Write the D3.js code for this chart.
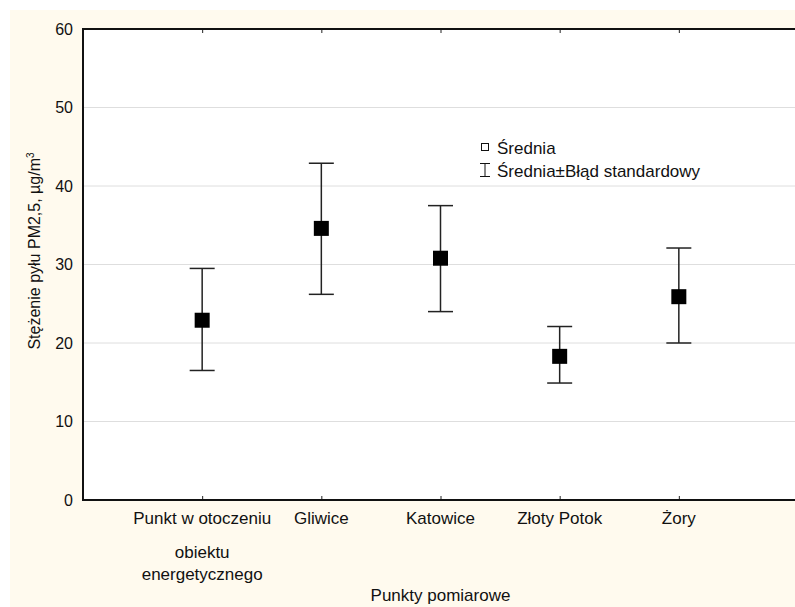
<!DOCTYPE html>
<html>
<head>
<meta charset="utf-8">
<script src="https://cdn.jsdelivr.net/npm/d3@7"></script>
<style>
  body { margin: 0; background: #fff; }
  text { font-family: "Liberation Sans", Arial, sans-serif; fill: #111; }
</style>
</head>
<body>
<div id="chart"></div>
<script>
// values
var categories = ["Punkt w otoczeniu|obiektu|energetycznego", "Gliwice", "Katowice", "Złoty Potok", "Żory"],
    means = [22.9, 34.6, 30.8, 18.3, 25.9],
    upper = [29.5, 42.9, 37.5, 22.1, 32.1],
    lower = [16.5, 26.2, 24.0, 14.9, 20.0],
    yTicks = [0, 10, 20, 30, 40, 50, 60];

var width = 795,
    height = 607,
    margin = { top: 29, right: -3, bottom: 107, left: 83 },
    plotW = width - margin.left - margin.right,
    plotH = height - margin.top - margin.bottom;

var svg = d3.select("#chart").append("svg")
    .attr("width", width)
    .attr("height", height);

// cream page background
svg.append("rect")
    .attr("x", 10).attr("y", 10)
    .attr("width", width - 10).attr("height", height - 10)
    .attr("fill", "#fffaee");

var g = svg.append("g")
    .attr("transform", "translate(" + margin.left + "," + margin.top + ")");

g.append("rect")
    .attr("width", plotW).attr("height", plotH)
    .attr("fill", "#fff");

var x = d3.scaleLinear().domain([0, categories.length + 1]).range([0, plotW]);
var y = d3.scaleLinear().domain([0, 60]).range([plotH, 0]);

// grid
g.selectAll("line.grid")
    .data(yTicks.filter(function(d) { return d > 0 && d < 60; }))
    .enter().append("line")
    .attr("class", "grid")
    .attr("x1", 0).attr("x2", plotW)
    .attr("y1", function(d) { return y(d); })
    .attr("y2", function(d) { return y(d); })
    .attr("stroke", "#dedede")
    .attr("stroke-width", 1);

// y axis labels
var yAxis = d3.axisLeft(y).tickValues(yTicks).tickSize(0).tickPadding(10);
g.append("g").call(yAxis)
    .call(function(s) { s.select(".domain").remove(); })
    .selectAll("text")
    .style("font-size", "16px")
    .attr("fill", "#111");

// x ticks (inside, bottom and top)
var xTickVals = d3.range(1, categories.length + 1);
g.append("g")
    .attr("transform", "translate(0," + plotH + ")")
    .call(d3.axisTop(x).tickValues(xTickVals).tickSize(4).tickFormat(""))
    .call(function(s) { s.select(".domain").remove(); s.selectAll("line").attr("stroke", "#222"); });
g.append("g")
    .call(d3.axisBottom(x).tickValues(xTickVals).tickSize(4).tickFormat(""))
    .call(function(s) { s.select(".domain").remove(); s.selectAll("line").attr("stroke", "#222"); });

// frame
g.append("path")
    .attr("d", "M" + plotW + ",0H0V" + plotH + "H" + plotW)
    .attr("fill", "none")
    .attr("stroke", "#111")
    .attr("stroke-width", 2);

// x category labels
var lab = g.selectAll("text.cat")
    .data(categories)
    .enter().append("text")
    .attr("class", "cat")
    .attr("text-anchor", "middle")
    .style("font-size", "17px")
    .attr("transform", function(d, i) { return "translate(" + x(i + 1) + "," + (plotH + 24) + ")"; });
lab.selectAll("tspan")
    .data(function(d) { return d.split("|"); })
    .enter().append("tspan")
    .attr("x", 0)
    .attr("y", function(d, i) { return i === 0 ? 0 : 12 + i * 22; })
    .text(function(d) { return d; });

// error bars
var capW = 25, sq = 15;
var bars = g.selectAll("g.bar")
    .data(means)
    .enter().append("g")
    .attr("class", "bar")
    .attr("transform", function(d, i) { return "translate(" + x(i + 1) + ",0)"; });
bars.append("line")
    .attr("y1", function(d, i) { return y(upper[i]); })
    .attr("y2", function(d, i) { return y(lower[i]); })
    .attr("stroke", "#222").attr("stroke-width", 1.5);
bars.append("line")
    .attr("x1", -capW / 2).attr("x2", capW / 2)
    .attr("y1", function(d, i) { return y(upper[i]); })
    .attr("y2", function(d, i) { return y(upper[i]); })
    .attr("stroke", "#222").attr("stroke-width", 1.5);
bars.append("line")
    .attr("x1", -capW / 2).attr("x2", capW / 2)
    .attr("y1", function(d, i) { return y(lower[i]); })
    .attr("y2", function(d, i) { return y(lower[i]); })
    .attr("stroke", "#222").attr("stroke-width", 1.5);
bars.append("rect")
    .attr("x", -sq / 2)
    .attr("y", function(d) { return y(d) - sq / 2; })
    .attr("width", sq).attr("height", sq)
    .attr("fill", "#000");

// legend
var leg = svg.append("g").attr("transform", "translate(485,0)");
leg.append("rect")
    .attr("x", -3.5).attr("y", 143.5).attr("width", 7).attr("height", 7)
    .attr("fill", "none").attr("stroke", "#111").attr("stroke-width", 1);
leg.append("text").attr("x", 12).attr("y", 154)
    .style("font-size", "17px").text("Średnia");
leg.append("path")
    .attr("d", "M-5,163.5H5M0,163.5V176.5M-5,176.5H5")
    .attr("fill", "none").attr("stroke", "#111").attr("stroke-width", 1);
leg.append("text").attr("x", 12).attr("y", 177)
    .style("font-size", "17px").text("Średnia±Błąd standardowy");

// axis titles
svg.append("text")
    .attr("x", margin.left + plotW / 2).attr("y", 601)
    .attr("text-anchor", "middle")
    .style("font-size", "17px")
    .text("Punkty pomiarowe");

var yt = svg.append("text")
    .attr("transform", "translate(40,251) rotate(-90)")
    .attr("text-anchor", "middle")
    .style("font-size", "16px");
yt.append("tspan").text("Stężenie pyłu PM2,5, µg/m");
yt.append("tspan").attr("dy", -6).style("font-size", "10px").text("3");
</script>
</body>
</html>
